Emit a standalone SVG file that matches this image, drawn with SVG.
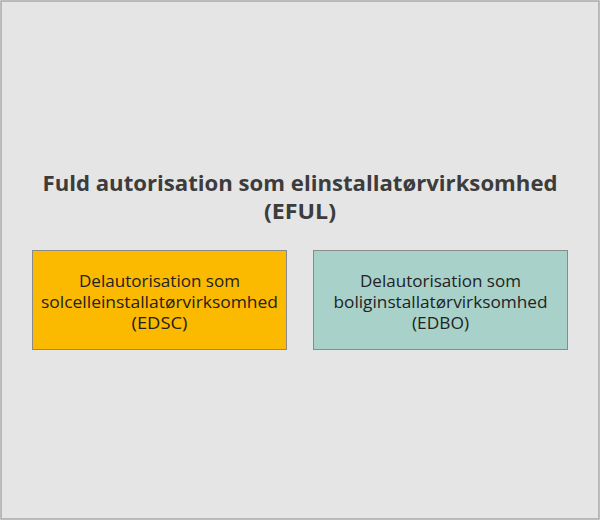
<svg xmlns="http://www.w3.org/2000/svg" width="600" height="520" viewBox="0 0 600 520">
<style>
.title{font-family:"Open Sans","Liberation Sans",sans-serif;font-weight:bold;font-size:22px;fill:#3c3c3c;text-anchor:middle}
.lbl{font-family:"Open Sans","Liberation Sans",sans-serif;font-size:17px;fill:#222;text-anchor:middle}
.box{stroke:#8a8a8a;stroke-width:1}
</style>
<rect x="1" y="1" width="598" height="518" fill="#e5e5e5" stroke="#a8a8a8" stroke-width="1.5"/>
<g id="title">
<text class="title" x="300" y="191" textLength="515" lengthAdjust="spacingAndGlyphs">Fuld autorisation som elinstallatørvirksomhed</text>
<text class="title" x="300" y="219" textLength="72" lengthAdjust="spacingAndGlyphs">(EFUL)</text>
</g>
<g id="edsc">
<rect class="box" x="32.5" y="250.5" width="254" height="99" fill="#fbb900"/>
<text class="lbl" x="159.5" y="287" textLength="161" lengthAdjust="spacingAndGlyphs">Delautorisation som</text>
<text class="lbl" x="159.5" y="308" textLength="237" lengthAdjust="spacingAndGlyphs">solcelleinstallatørvirksomhed</text>
<text class="lbl" x="159.5" y="329" textLength="56" lengthAdjust="spacingAndGlyphs">(EDSC)</text>
</g>
<g id="edbo">
<rect class="box" x="313.5" y="250.5" width="254" height="99" fill="#a8d1c9"/>
<text class="lbl" x="440.5" y="287" textLength="161" lengthAdjust="spacingAndGlyphs">Delautorisation som</text>
<text class="lbl" x="440.5" y="308" textLength="214" lengthAdjust="spacingAndGlyphs">boliginstallatørvirksomhed</text>
<text class="lbl" x="440.5" y="329" textLength="57" lengthAdjust="spacingAndGlyphs">(EDBO)</text>
</g>
<g id="connectors"></g>
</svg>
